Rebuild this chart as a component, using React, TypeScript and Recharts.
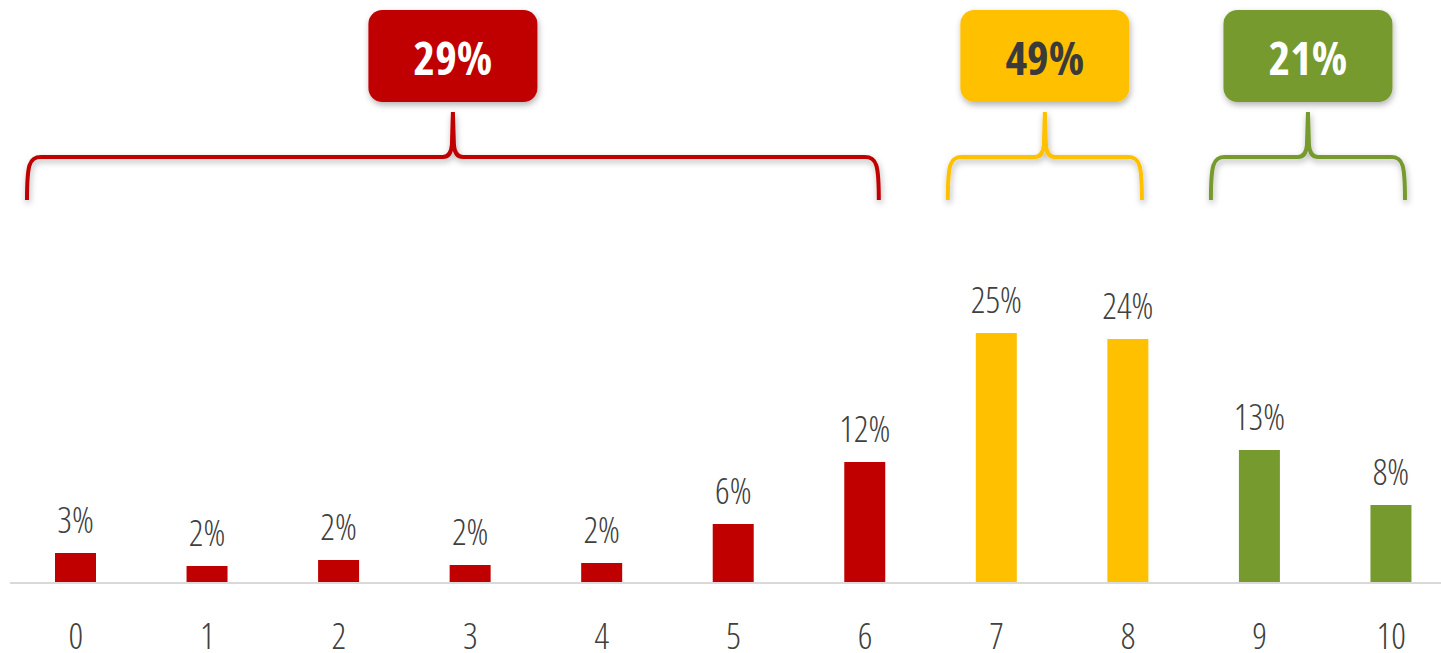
import { BarChart, Bar, XAxis, YAxis, Cell, LabelList, ReferenceArea } from "recharts";

const categories = ["0", "1", "2", "3", "4", "5", "6", "7", "8", "9", "10"];
const shares = [3.0, 1.7, 2.3, 1.8, 2.0, 5.9, 12.1, 25.0, 24.4, 13.3, 7.8];

const groupFirst = ["0", "7", "9"];
const groupLast = ["6", "8", "10"];
const groupTotals = [29, 49, 21];
const groupColors = ["#C00000", "#FFC000", "#769A2E"];
const groupTextColors = ["#FFFFFF", "#3A3A3A", "#FFFFFF"];

const data = categories.map((c, i) => ({ score: c, share: shares[i] }));

const groupOf = (cat: string) => {
  const n = Number(cat);
  return groupFirst.findIndex((f, g) => n >= Number(f) && n <= Number(groupLast[g]));
};

const FONT = '"Open Sans", sans-serif';

function BraceShape(props: any) {
  const { x, width, idx } = props;
  const color = groupColors[idx];
  const L = x + 17;
  const R = x + width - 52;
  const C = (L + R) / 2;
  const yTop = 112;
  const yMid = 157;
  const yBot = 200;
  const r = 14;
  const d = [
    `M ${L} ${yBot}`,
    `C ${L} ${yMid + 8} ${L + 2} ${yMid} ${L + r} ${yMid}`,
    `L ${C - 10} ${yMid}`,
    `Q ${C - 2} ${yMid} ${C - 1} ${yMid - 12}`,
    `L ${C} ${yTop}`,
    `L ${C + 1} ${yMid - 12}`,
    `Q ${C + 2} ${yMid} ${C + 10} ${yMid}`,
    `L ${R - r} ${yMid}`,
    `C ${R - 2} ${yMid} ${R} ${yMid + 8} ${R} ${yBot}`,
  ].join(" ");
  const fid = `shadow-${idx}`;
  return (
    <g>
      <defs>
        <filter id={fid} x="-20%" y="-20%" width="140%" height="150%">
          <feDropShadow dx="1" dy="3" stdDeviation="3" floodColor="#000" floodOpacity="0.3" />
        </filter>
      </defs>
      <path d={d} fill="none" stroke={color} strokeWidth={4} filter={`url(#${fid})`} />
      <rect x={C - 84.5} y={10} width={169} height={92} rx={14} fill={color} filter={`url(#${fid})`} />
      <text
        x={C}
        y={57}
        textAnchor="middle"
        dominantBaseline="central"
        fill={groupTextColors[idx]}
        style={{ fontFamily: FONT, fontStretch: "condensed", fontWeight: 700, fontSize: 46 }}
      >
        {groupTotals[idx]}%
      </text>
    </g>
  );
}

export default function App() {
  return (
    <div
      style={{
        position: "absolute",
        left: 0,
        top: 0,
        width: 1441,
        height: 653,
        overflow: "hidden",
        background: "#fff",
      }}
    >
      <BarChart
        width={1457}
        height={653}
        data={data}
        margin={{ top: 283, right: 0, left: 10, bottom: 10 }}
      >
        <XAxis
          dataKey="score"
          height={60}
          tickLine={false}
          tickSize={0}
          tickMargin={40}
          axisLine={{ stroke: "#D9D9D9", strokeWidth: 2 }}
          tick={{ fill: "#404040", fontSize: 36, fontFamily: FONT, style: { fontStretch: "condensed", fontWeight: 300 } }}
          interval={0}
        />
        <YAxis hide domain={[0, 30]} />
        {groupFirst.map((f, i) => (
          <ReferenceArea
            key={f}
            x1={f}
            x2={groupLast[i]}
            ifOverflow="visible"
            shape={(p: any) => <BraceShape {...p} idx={i} />}
          />
        ))}
        <Bar dataKey="share" barSize={41} isAnimationActive={false}>
          {data.map((d) => (
            <Cell key={d.score} fill={groupColors[groupOf(d.score)]} />
          ))}
          <LabelList
            dataKey="share"
            position="top"
            offset={20}
            formatter={(v: any) => `${Math.round(Number(v))}%`}
            style={{ fill: "#404040", fontSize: 36, fontFamily: FONT, fontStretch: "condensed", fontWeight: 300 }}
          />
        </Bar>
      </BarChart>
    </div>
  );
}
